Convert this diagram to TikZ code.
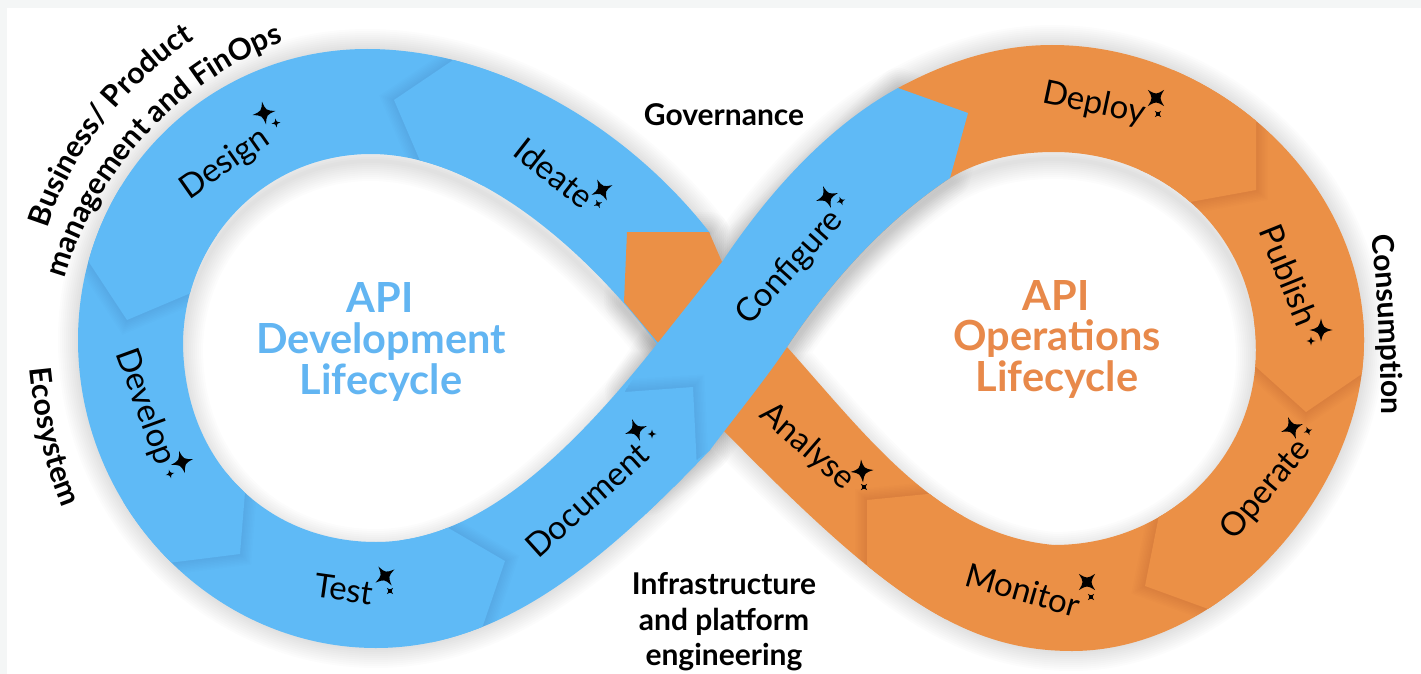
\documentclass[tikz,border=0pt]{standalone}
\usepackage{fontspec}
\setmainfont{Lato}
\usetikzlibrary{decorations.text}
\definecolor{bluefill}{HTML}{5FBAF6}
\definecolor{orangefill}{HTML}{EB9046}
\definecolor{bluetitle}{HTML}{62B5F2}
\definecolor{orangetitle}{HTML}{E8894A}
\definecolor{pagebg}{HTML}{F4F6F6}
\newcommand\LobeOuter{(710,233) .. controls (630,130) and (500,49) .. (367,49) .. controls (210,49) and (78,175) .. (78,340) .. controls (78,510) and (215,648) .. (376,648) .. controls (500,648) and (600,565) .. (710,450) -- cycle}
\newcommand\LobeHole{(657,344) .. controls (590,255) and (480,154) .. (371,154) .. controls (265,154) and (183,240) .. (183,345) .. controls (185,465) and (270,542) .. (376,542) .. controls (475,542) and (565,460) .. (657,344) -- cycle}
\newcommand\RingOuter{(898,88) .. controls (950,60) and (1000,45) .. (1052,45) .. controls (1215,45) and (1364,180) .. (1364,340) .. controls (1364,490) and (1225,651) .. (1072,651) .. controls (960,651) and (880,590) .. (724,431) -- (660,345) -- (624,302) -- (627,232) -- (709,232) -- (722,262) -- cycle}
\newcommand\RingHole{(787,347) .. controls (835,275) and (890,218) .. (950,178) .. controls (980,160) and (1015,152) .. (1054,152) .. controls (1165,152) and (1256,235) .. (1256,350) .. controls (1256,460) and (1165,545) .. (1054,545) .. controls (940,535) and (870,440) .. (787,347) -- cycle}
\newcommand\Band{(898,88) -- (968,113) -- (950,178) .. controls (890,218) and (835,275) .. (787,347) .. controls (765,380) and (740,410) .. (710,450) -- (650,495) -- (625,391) -- (657,344) -- (722,262) .. controls (770,190) and (830,125) .. (898,88) -- cycle}
\newcommand\GlowOn[2]{\foreach \w in {4,8,...,40}{\draw[black,line width=\w pt,opacity=0.012,line join=round,shift={#1}] #2;}}
\newcommand\FoldOn[1]{\foreach \w in {3,6,...,24}{\draw[black,line width=\w pt,opacity=0.007] #1;}}
\newcommand\spark[4]{\fill[black,shift={(#1,#2)},rotate=#4,scale=#3] (0,-1) .. controls (.2,-.2) .. (1,0) .. controls (.2,.2) .. (0,1) .. controls (-.2,.2) .. (-1,0) .. controls (-.2,-.2) .. (0,-1) -- cycle;}
\tikzset{
 eoclip/.code={\pgfseteorule},
 steplabel/.style={font=\fontsize{33}{33}\selectfont,text=black,inner sep=0pt},
 sidelabel/.style={font=\fontsize{30}{35.5}\selectfont\bfseries,text=black,align=center,inner sep=0pt},
 titleblue/.style={font=\fontsize{41.5}{41.5}\selectfont\bfseries,text=bluetitle,inner sep=0pt},
 titleorange/.style={font=\fontsize{41.5}{41.5}\selectfont\bfseries,text=orangetitle,inner sep=0pt},
 arctext/.style={decorate,decoration={text along path,text align=center,text={|\fontsize{30}{30}\selectfont\bfseries|#1}}}
}
\begin{document}
\begin{tikzpicture}[x=1pt,y=-1pt]
\useasboundingbox (0,0) rectangle (1421,674);
\fill[pagebg] (0,0) rectangle (1421,674);
\fill[white] (7,8) rectangle (1421,674);
% glow
\GlowOn{(0,0)}{\LobeOuter}
\GlowOn{(0,7)}{\LobeHole}
\GlowOn{(0,0)}{\RingOuter}
\GlowOn{(0,7)}{\RingHole}
\GlowOn{(0,0)}{\Band}
% blue lobe
\fill[bluefill,even odd rule] \LobeOuter \LobeHole;
\begin{scope}
 \clip[eoclip] \LobeOuter \LobeHole;
 \FoldOn{(468,50) -- (394,100) -- (424,170)}
 \fill[bluefill] (468,50) -- (394,100) -- (424,170) -- (500,190) -- (530,50) -- cycle;
 \FoldOn{(75,241) -- (127,320) -- (205,287)}
 \fill[bluefill] (75,241) -- (127,320) -- (205,287) -- (220,220) -- (100,180) -- cycle;
 \FoldOn{(160,564) -- (240,554) -- (246,480)}
 \fill[bluefill] (160,564) -- (240,554) -- (246,480) -- (190,460) -- (110,510) -- cycle;
 \FoldOn{(445,526) -- (505,561) -- (478,640)}
 \fill[bluefill] (445,526) -- (505,561) -- (478,640) -- (440,670) -- (400,540) -- cycle;
\end{scope}
% orange ring
\fill[orangefill,even odd rule] \RingOuter \RingHole;
\begin{scope}
 \clip[eoclip] \RingOuter \RingHole;
 \FoldOn{(1256,110) -- (1256,190) -- (1190,202)}
 \fill[orangefill] (1256,110) -- (1256,190) -- (1190,202) -- (1140,170) -- (1180,50) -- cycle;
 \FoldOn{(1245,357) -- (1306,412) -- (1372,367)}
 \fill[orangefill] (1245,357) -- (1306,412) -- (1372,367) -- (1380,320) -- (1230,320) -- cycle;
 \FoldOn{(1160,510) -- (1145,586) -- (1222,614)}
 \fill[orangefill] (1160,510) -- (1145,586) -- (1222,614) -- (1270,560) -- (1210,490) -- cycle;
 \FoldOn{(948,492) -- (867,500) -- (867,585)}
 \fill[orangefill] (948,492) -- (867,500) -- (867,585) -- (920,655) -- (990,560) -- cycle;
\end{scope}
% blue band
\fill[bluefill] \Band;
\begin{scope}
 \clip \Band;
 \FoldOn{(610,392) -- (693,387) -- (698,490)}
\end{scope}
\begin{scope}
 \clip \LobeOuter;
 \fill[bluefill] (625,392) -- (693,387) -- (698,490) -- (650,530) -- (600,470) -- cycle;
\end{scope}
% sparkles
\spark{264}{113}{11.5}{10}\spark{276}{123}{4.5}{10}
\spark{602}{190}{11.5}{25}\spark{598}{204}{4.5}{25}
\spark{827}{197}{11.5}{20}\spark{841}{201}{4.5}{20}
\spark{1156}{98}{11.5}{45}\spark{1158}{114}{4.5}{45}
\spark{1321}{330}{11.5}{0}\spark{1311}{341}{4.5}{0}
\spark{1292}{428}{11.5}{20}\spark{1308}{431}{4.5}{20}
\spark{862}{471}{11.5}{5}\spark{864}{487}{4.5}{45}
\spark{1087}{582}{11.5}{45}\spark{1091}{597}{4.5}{45}
\spark{385}{576}{11.5}{35}\spark{390}{591}{4.5}{45}
\spark{636}{430}{11.5}{20}\spark{652}{434}{4.5}{0}
\spark{182}{462}{11.5}{15}\spark{170}{474}{4.5}{15}
% step labels
\node[steplabel,rotate=35] (design) at (225,164) {Design};
\node[steplabel,rotate=-38] (ideate) at (554,173) {Ideate};
\node[steplabel,rotate=48] (configure) at (790,268) {Configure};
\node[steplabel,rotate=-12] (deploy) at (1094,104) {Deploy};
\node[steplabel,rotate=-68] (publish) at (1289,275) {Publish};
\node[steplabel,rotate=50] (operate) at (1266,490) {Operate};
\node[steplabel,rotate=-16] (monitor) at (1023,590) {Monitor};
\node[steplabel,rotate=-41] (analyse) at (807,447) {Analyse};
\node[steplabel,rotate=-8] (test) at (344,589) {Test};
\node[steplabel,rotate=42] (document) at (587,500) {Document};
\node[steplabel,rotate=-70] (develop) at (145,407) {Develop};
% titles
\node[titleblue] (t1a) at (380,297) {API};
\node[titleblue] (t1b) at (381,342) {Development};
\node[titleblue] (t1c) at (381,383) {Lifecycle};
\node[titleorange] (t2a) at (1056,295) {API};
\node[titleorange] (t2b) at (1057,339) {Operations};
\node[titleorange] (t2c) at (1057,380) {Lifecycle};
% side labels
\node[sidelabel] (gov) at (724,115) {Governance};
\node[sidelabel] (infra) at (724,622) {Infrastructure\\and platform\\engineering};
\path[arctext={Ecosystem}] (28,350) .. controls (32,410) and (44,470) .. (70,525);
\path[arctext={Consumption}] (1369,215) .. controls (1379,290) and (1382,360) .. (1381,435);
\path[arctext={Business/ Product}] (44,240) .. controls (62,170) and (118,85) .. (205,33);
\path[arctext={management and FinOps}] (62,290) .. controls (85,190) and (170,80) .. (295,38);
\end{tikzpicture}
\end{document}
